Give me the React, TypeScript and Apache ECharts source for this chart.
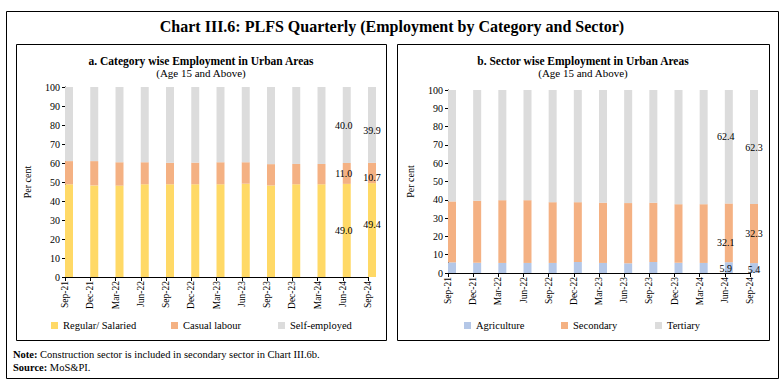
import React, { useEffect, useRef } from "react";
import * as echarts from "echarts";

const categories = ["Sep-21", "Dec-21", "Mar-22", "Jun-22", "Sep-22", "Dec-22", "Mar-23", "Jun-23", "Sep-23", "Dec-23", "Mar-24", "Jun-24", "Sep-24"];

// Panel a: category wise employment (per cent)
const regularSalaried = [48.8, 48.2, 48.1, 48.8, 48.8, 48.8, 48.8, 49.1, 48.2, 48.8, 48.8, 49.0, 49.4];
const casualLabour = [12.2, 12.8, 12.3, 11.6, 11.3, 11.4, 11.6, 11.3, 11.2, 10.7, 10.7, 11.0, 10.7];
const selfEmployed = [39.0, 39.0, 39.6, 39.6, 39.9, 39.8, 39.6, 39.6, 40.6, 40.5, 40.5, 40.0, 39.9];

// Panel b: sector wise employment (per cent)
const agriculture = [5.8, 5.6, 5.5, 5.5, 5.5, 6.0, 5.5, 5.3, 6.0, 5.6, 5.5, 5.9, 5.4];
const secondary = [33.3, 33.9, 34.3, 34.3, 33.2, 32.7, 32.9, 32.9, 32.4, 32.0, 32.1, 32.1, 32.3];
const tertiary = [60.9, 60.5, 60.2, 60.2, 61.3, 61.3, 61.6, 61.8, 61.6, 62.4, 62.4, 62.4, 62.3];

const yTicks = [0, 100, 10]; // min, max, interval

const FONT = "'Liberation Serif', 'Times New Roman', serif";
const C_YELLOW = "#FFD966";
const C_ORANGE = "#F4B183";
const C_GREY = "#DCDCDC";
const C_BLUE = "#B4C7E7";

// label offsets (style only) for the labelled bars: index -> [dx, dy]
type Off = Record<number, [number, number]>;

function withLabels(values: number[], offs: Off) {
  return values.map((v, i) => {
    if (offs[i] === undefined) return v;
    return {
      value: v,
      label: {
        show: true,
        position: "inside",
        offset: offs[i],
        formatter: (p: any) => Number(p.value).toFixed(1),
        color: "#000",
        fontFamily: FONT,
        fontSize: 10,
      },
    };
  });
}

function makeBar(name: string, values: any[], color: string, axis: number, stack: string) {
  return {
    type: "bar",
    name,
    data: values,
    stack,
    xAxisIndex: axis,
    yAxisIndex: axis,
    barWidth: 8,
    barGap: "0%",
    itemStyle: { color },
    label: { show: false },
  };
}

function makeDummy(axis: number) {
  return {
    type: "bar",
    name: "",
    data: [],
    stack: "dummy" + axis,
    xAxisIndex: axis,
    yAxisIndex: axis,
    barWidth: 8,
    barGap: "0%",
    silent: true,
  };
}

function xAxisCfg(grid: number) {
  return {
    type: "category",
    gridIndex: grid,
    data: categories,
    boundaryGap: false,
    max: 12.3,
    axisLine: { show: true, lineStyle: { color: "#000", width: 1 } },
    axisTick: { show: true, length: 4, lineStyle: { color: "#000" }, interval: 0 },
    axisLabel: {
      rotate: 90,
      interval: 0,
      margin: 4,
      fontFamily: FONT,
      fontSize: 9.5,
      color: "#000",
      padding: [8, 0, 0, 0],
    },
    splitLine: { show: false },
  };
}

function yAxisCfg(grid: number) {
  return {
    type: "value",
    gridIndex: grid,
    min: yTicks[0],
    max: yTicks[1],
    interval: yTicks[2],
    name: "Per cent",
    nameLocation: "middle",
    nameGap: 33,
    nameTextStyle: { fontFamily: FONT, fontSize: 10, color: "#000" },
    axisLine: { show: true, lineStyle: { color: "#000", width: 1 } },
    axisTick: { show: true, length: 3, lineStyle: { color: "#000" } },
    axisLabel: { fontFamily: FONT, fontSize: 10, color: "#000", margin: 5 },
    splitLine: { show: false },
  };
}

function legendItem(name: string, left: number) {
  return {
    data: [name],
    left,
    top: 320,
    padding: 0,
    itemWidth: 7,
    itemHeight: 7,
    icon: "rect",
    selectedMode: false,
    textStyle: { fontFamily: FONT, fontSize: 10.5, color: "#000" },
  };
}

export default function App() {
  const ref = useRef<HTMLDivElement>(null);
  useEffect(() => {
    if (!ref.current) return;
    const chart = echarts.init(ref.current, null, { renderer: "svg" });
    const option: any = {
      animation: false,
      backgroundColor: "#fff",
      grid: [
        { left: 65, top: 87, width: 303, height: 190 },
        { left: 448, top: 90, width: 302, height: 183 },
      ],
      xAxis: [xAxisCfg(0), xAxisCfg(1)],
      yAxis: [yAxisCfg(0), yAxisCfg(1)],
      legend: [
        legendItem("Regular/ Salaried", 51),
        legendItem("Casual labour", 171),
        legendItem("Self-employed", 278),
        legendItem("Agriculture", 464),
        legendItem("Secondary", 561),
        legendItem("Tertiary", 655),
      ],
      series: [
        makeDummy(0),
        makeBar("Regular/ Salaried", withLabels(regularSalaried, { 11: [-3, 0], 12: [0, -6] }), C_YELLOW, 0, "a"),
        makeBar("Casual labour", withLabels(casualLabour, { 11: [-3, 0], 12: [0, 5] }), C_ORANGE, 0, "a"),
        makeBar("Self-employed", withLabels(selfEmployed, { 11: [-3, 0], 12: [0, 6] }), C_GREY, 0, "a"),
        makeDummy(1),
        makeBar("Agriculture", withLabels(agriculture, { 11: [-3, 1], 12: [0, 1] }), C_BLUE, 1, "b"),
        makeBar("Secondary", withLabels(secondary, { 11: [-3, 10], 12: [0, 0] }), C_ORANGE, 1, "b"),
        makeBar("Tertiary", withLabels(tertiary, { 11: [-3, -10], 12: [0, 0] }), C_GREY, 1, "b"),
      ],
      graphic: [
        { type: "rect", shape: { x: 6.5, y: 11.5, width: 772, height: 367 }, style: { fill: "none", stroke: "#000", lineWidth: 1 }, silent: true },
        { type: "rect", shape: { x: 16.5, y: 44.5, width: 370, height: 296 }, style: { fill: "none", stroke: "#000", lineWidth: 1 }, silent: true },
        { type: "rect", shape: { x: 397.5, y: 44.5, width: 372, height: 296 }, style: { fill: "none", stroke: "#000", lineWidth: 1 }, silent: true },
        {
          type: "text",
          style: { text: "Chart III.6: PLFS Quarterly (Employment by Category and Sector)", x: 392, y: 26, align: "center", verticalAlign: "middle", fontFamily: FONT, fontSize: 16, fontWeight: "bold", fill: "#000" },
        },
        {
          type: "text",
          style: { text: "a. Category wise Employment in Urban Areas", x: 201, y: 61, align: "center", verticalAlign: "middle", fontFamily: FONT, fontSize: 11.5, fontWeight: "bold", fill: "#000" },
        },
        {
          type: "text",
          style: { text: "(Age 15 and Above)", x: 201, y: 73, align: "center", verticalAlign: "middle", fontFamily: FONT, fontSize: 11, fill: "#000" },
        },
        {
          type: "text",
          style: { text: "b. Sector wise Employment in Urban Areas", x: 583, y: 61, align: "center", verticalAlign: "middle", fontFamily: FONT, fontSize: 11.5, fontWeight: "bold", fill: "#000" },
        },
        {
          type: "text",
          style: { text: "(Age 15 and Above)", x: 583, y: 73, align: "center", verticalAlign: "middle", fontFamily: FONT, fontSize: 11, fill: "#000" },
        },
        {
          type: "text",
          style: {
            text: "{b|Note:} Construction sector is included in secondary sector in Chart III.6b.",
            x: 13, y: 354, align: "left", verticalAlign: "middle", fontFamily: FONT, fontSize: 10.5, fill: "#000",
            rich: { b: { fontFamily: FONT, fontSize: 10.5, fontWeight: "bold", fill: "#000" } },
          },
        },
        {
          type: "text",
          style: {
            text: "{b|Source:} MoS&PI.",
            x: 13, y: 367, align: "left", verticalAlign: "middle", fontFamily: FONT, fontSize: 10.5, fill: "#000",
            rich: { b: { fontFamily: FONT, fontSize: 10.5, fontWeight: "bold", fill: "#000" } },
          },
        },
      ],
    };
    chart.setOption(option);
    return () => chart.dispose();
  }, []);
  return <div ref={ref} style={{ position: "absolute", left: 0, top: 0, width: 784, height: 386, background: "#fff" }} />;
}
